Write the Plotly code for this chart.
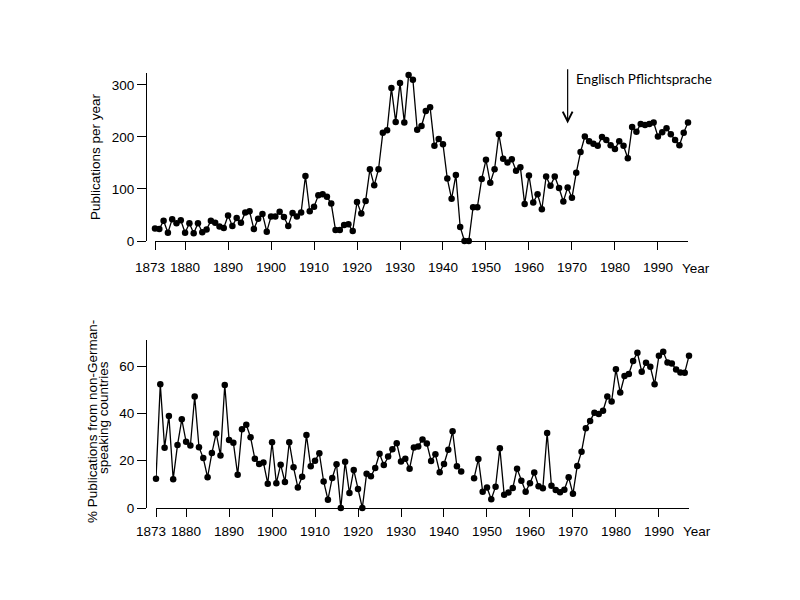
import plotly.graph_objects as go

years = list(range(1873, 1998))

publications = [
    24, 23, 39, 16, 42, 34, 40, 16, 34, 15,          # 1873-1882
    34, 17, 22, 39, 35, 28, 25, 49, 29, 44,          # 1883-1892
    35, 55, 57, 23, 43, 52, 18, 47, 47, 56,          # 1893-1902
    46, 29, 54, 47, 55, 125, 57, 66, 88, 90,         # 1903-1912
    85, 72, 21, 21, 31, 32, 19, 75, 53, 77,          # 1913-1922
    138, 107, 138, 208, 213, 294, 229, 304, 228, 319,  # 1923-1932
    310, 214, 221, 250, 257, 183, 196, 186, 120, 81,   # 1933-1942
    127, 27, 0, 0, 65, 65, 119, 156, 112, 138,        # 1943-1952
    205, 158, 151, 157, 135, 142, 71, 126, 74, 90,    # 1953-1962
    61, 124, 106, 124, 102, 76, 103, 83, 131, 171,    # 1963-1972
    201, 192, 187, 183, 200, 194, 184, 177, 192, 183, # 1973-1982
    159, 219, 210, 225, 223, 225, 228, 201, 209, 217, # 1983-1992
    205, 194, 184, 208, 228,                          # 1993-1997
]

pct_foreign = [
    12.4, 52.3, 25.5, 38.9, 12.2, 26.6, 37.5, 28.0, 26.4, 47.1,   # 1873-1882
    25.7, 21.1, 13.0, 23.2, 31.5, 22.2, 52.0, 28.7, 27.6, 14.0,   # 1883-1892
    33.3, 35.2, 29.9, 20.8, 18.6, 19.2, 10.3, 27.8, 10.5, 18.3,   # 1893-1902
    11.0, 27.8, 17.2, 8.7, 13.2, 30.8, 17.6, 20.0, 23.1, 11.2,    # 1903-1912
    3.5, 12.7, 18.5, 0.0, 19.5, 6.3, 16.1, 8.0, 0.0, 14.5,        # 1913-1922
    13.4, 16.9, 22.9, 18.2, 21.8, 24.8, 27.4, 19.7, 20.8, 16.6,   # 1923-1932
    25.6, 26.0, 29.0, 27.3, 19.9, 22.7, 15.1, 18.6, 24.6, 32.4,   # 1933-1942
    17.6, 15.4, None, None, 12.6, 20.7, 6.9, 8.7, 3.7, 9.0,       # 1943-1952
    25.2, 5.6, 6.6, 8.4, 16.6, 11.5, 6.9, 10.5, 15.0, 9.2,        # 1953-1962
    8.3, 31.7, 9.4, 7.6, 6.7, 7.7, 13.0, 6.0, 17.8, 23.8,         # 1963-1972
    33.7, 36.8, 40.3, 39.7, 41.1, 47.1, 45.0, 58.6, 48.8, 55.8,   # 1973-1982
    56.6, 62.1, 65.6, 57.6, 61.4, 59.7, 52.3, 64.3, 66.0, 61.5,   # 1983-1992
    61.1, 58.5, 57.3, 57.2, 64.3,                                 # 1993-1997
]

x_tickvals = [1873, 1880, 1890, 1900, 1910, 1920, 1930, 1940, 1950, 1960, 1970, 1980, 1990]
x_ticktext = [str(v) for v in x_tickvals]
top_yticks = [0, 100, 200, 300]
bottom_yticks = [0, 20, 40, 60]

top_ytitle = "Publications per year"
bottom_ytitle_1 = "% Publications from non-German-"
bottom_ytitle_2 = "speaking countries"
x_end_label = "Year"
arrow_text = "Englisch Pflichtsprache"
arrow_year = 1969

W, H = 800, 600
def px(xp):
    return xp / W
def py(yp):
    return 1 - yp / H

FONT = "Arial"
FS = 13.5

# first label is drawn separately, nudged left of its tick as in the original
axis_ticktext = [""] + x_ticktext[1:]

fig = go.Figure()

line_style = dict(color="black", width=1.3)
marker_style = dict(color="black", size=6.5)

fig.add_trace(go.Scatter(x=years, y=publications, mode="lines+markers",
                         line=line_style, marker=marker_style,
                         cliponaxis=False, xaxis="x", yaxis="y",
                         showlegend=False))
fig.add_trace(go.Scatter(x=years, y=pct_foreign, mode="lines+markers",
                         line=line_style, marker=marker_style,
                         connectgaps=False, cliponaxis=False,
                         xaxis="x2", yaxis="y2", showlegend=False))

common_x = dict(range=[years[0], years[-1]], tickmode="array",
                tickvals=x_tickvals, ticktext=axis_ticktext, tickangle=0,
                showline=True, linecolor="black", linewidth=1.2,
                ticks="outside", ticklen=8, tickwidth=1.2, tickcolor="black",
                showgrid=False, zeroline=False, automargin=False,
                tickfont=dict(family=FONT, size=FS, color="black"))
common_y = dict(tickmode="array", showline=True, linecolor="black",
                linewidth=1.2, ticks="outside", ticklen=9, tickwidth=1.2,
                tickcolor="black", showgrid=False, zeroline=False,
                automargin=False,
                tickfont=dict(family=FONT, size=FS, color="black"),
                anchor="free")

fig.update_layout(
    width=W, height=H,
    margin=dict(l=0, r=0, t=0, b=0),
    paper_bgcolor="white", plot_bgcolor="white",
    font=dict(family=FONT, size=FS, color="black"),
    xaxis=dict(domain=[px(155), px(688)], anchor="y", ticklabelstandoff=6,
               **common_x),
    yaxis=dict(domain=[py(241), py(73)], range=[0, 323],
               tickvals=top_yticks, position=px(146), **common_y),
    xaxis2=dict(domain=[px(156), px(689)], anchor="y2", ticklabelstandoff=3,
                **common_x),
    yaxis2=dict(domain=[py(508), py(340)], range=[0, 71],
                tickvals=bottom_yticks, position=px(146), **common_y),
)

def vtitle(text, xp, yp):
    return dict(text=text, textangle=-90, x=px(xp), y=py(yp),
                xref="paper", yref="paper", xanchor="center", yanchor="middle",
                showarrow=False, font=dict(family=FONT, size=FS, color="black"))

def hlabel(text, xp, yp):
    return dict(text=text, x=px(xp), y=py(yp), xref="paper", yref="paper",
                xanchor="center", yanchor="middle", showarrow=False,
                font=dict(family=FONT, size=FS, color="black"))

annotations = [
    vtitle(top_ytitle, 95, 157),
    vtitle(bottom_ytitle_1, 92, 422),
    vtitle(bottom_ytitle_2, 103, 418),
    hlabel(x_ticktext[0], 150, 267),
    hlabel(x_ticktext[0], 151, 531),
    hlabel(x_end_label, 696, 268),
    hlabel(x_end_label, 697, 531),
    dict(text="", x=arrow_year, y=226, xref="x", yref="y",
         ax=arrow_year, ay=333, axref="x", ayref="y",
         showarrow=True, arrowhead=5, arrowsize=1.6, arrowwidth=1.2,
         arrowcolor="black", standoff=0),
    dict(text=arrow_text, x=px(574), y=py(79), xref="paper", yref="paper",
         xanchor="left", yanchor="middle", showarrow=False,
         font=dict(family="Lato", size=13.5, color="black")),
]
fig.update_layout(annotations=annotations)

fig.write_html("out.html")
